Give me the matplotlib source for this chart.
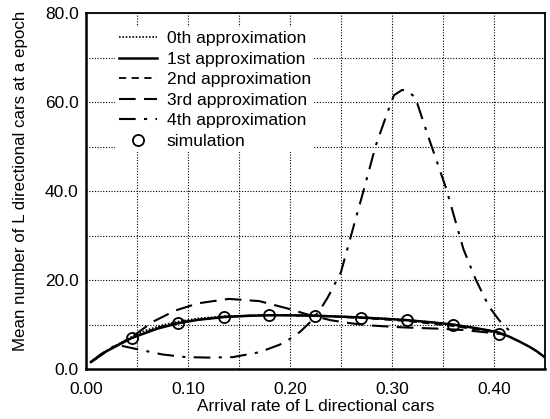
import numpy as np
import matplotlib.pyplot as plt

plt.rcParams['font.family'] = ['Liberation Sans', 'DejaVu Sans']

# simulation points
sim_x = [0.045, 0.09, 0.135, 0.18, 0.225, 0.27, 0.315, 0.36, 0.405]
sim_y = [7.1, 10.4, 11.8, 12.2, 11.9, 11.6, 11.1, 9.9, 7.9]

# 1st approximation
a1_x = [0.005, 0.02, 0.045, 0.07, 0.09, 0.11, 0.135, 0.16, 0.18, 0.2, 0.225, 0.25, 0.27, 0.295, 0.315,
        0.34, 0.36, 0.38, 0.395, 0.405, 0.415, 0.425, 0.435, 0.442, 0.449]
a1_y = [1.6, 4.0, 7.0, 9.1, 10.3, 11.1, 11.7, 12.0, 12.1, 12.1, 12.0, 11.8, 11.6, 11.3, 11.0,
        10.5, 10.0, 9.3, 8.7, 8.2, 7.3, 6.2, 5.0, 4.0, 2.8]

# 0th approximation
a0_x = [0.005, 0.02, 0.045, 0.06, 0.075, 0.09, 0.11, 0.135, 0.18, 0.225, 0.27, 0.315, 0.36, 0.405]
a0_y = [1.6, 4.1, 7.3, 8.8, 9.9, 10.7, 11.4, 11.9, 12.2, 12.1, 11.7, 11.1, 10.1, 8.3]

# 2nd approximation
a2_x = [0.005, 0.02, 0.045, 0.07, 0.09, 0.135, 0.18, 0.225, 0.27, 0.315, 0.36, 0.38, 0.395, 0.405, 0.415]
a2_y = [1.6, 4.0, 7.1, 9.3, 10.5, 11.8, 12.2, 12.0, 11.5, 10.8, 9.7, 9.0, 8.5, 8.0, 7.4]

# 3rd approximation
a3_x = [0.005, 0.02, 0.045, 0.066, 0.088, 0.11, 0.14, 0.17, 0.2, 0.217, 0.24, 0.26, 0.28, 0.31,
        0.345, 0.37, 0.387, 0.4, 0.41]
a3_y = [1.6, 4.0, 7.2, 10.7, 13.2, 14.8, 15.8, 15.3, 13.5, 12.3, 11.0, 10.3, 9.8, 9.4,
        9.1, 8.8, 8.4, 8.1, 7.8]

# 4th approximation
a4_x = [0.005, 0.015, 0.03, 0.05, 0.075, 0.098, 0.12, 0.144, 0.17, 0.19, 0.2, 0.21, 0.22, 0.23,
        0.237, 0.25, 0.259, 0.272, 0.284, 0.296, 0.302, 0.31, 0.316, 0.323, 0.336, 0.353,
        0.37, 0.382, 0.395, 0.405, 0.412, 0.42]
a4_y = [1.6, 3.4, 5.5, 4.5, 3.3, 2.7, 2.6, 2.7, 3.8, 5.5, 6.8, 8.4, 10.6, 13.5,
        16.1, 21.8, 29.3, 40.0, 50.2, 58.0, 61.6, 62.8, 62.5, 61.0, 52.0, 40.7,
        27.0, 20.2, 14.1, 11.0, 9.3, 7.7]

x_ticks = [0.00, 0.10, 0.20, 0.30, 0.40]
y_ticks = [0.0, 20.0, 40.0, 60.0, 80.0]

fig = plt.figure(figsize=(5.5, 4.19), dpi=100)
ax = fig.add_axes([0.156, 0.119, 0.835, 0.849])

ax.plot(a0_x, a0_y, color='black', lw=1.2, linestyle=(0, (1, 1)), label='0th approximation')
ax.plot(a1_x, a1_y, color='black', lw=1.8, linestyle='-', label='1st approximation')
ax.plot(a2_x, a2_y, color='black', lw=1.3, linestyle=(0, (4, 3)), label='2nd approximation')
ax.plot(a3_x, a3_y, color='black', lw=1.5, linestyle=(0, (8, 4)), label='3rd approximation')
ax.plot(a4_x, a4_y, color='black', lw=1.5, linestyle=(0, (8, 4, 1.5, 4)), label='4th approximation')
ax.plot(sim_x, sim_y, linestyle='none', marker='o', markersize=8, markerfacecolor='none',
        markeredgecolor='black', markeredgewidth=1.3, label='simulation')

ax.set_xlim(0, 0.45)
ax.set_ylim(0, 80)
ax.set_xticks(x_ticks)
ax.set_xticklabels(['%.2f' % v for v in x_ticks])
ax.set_yticks(y_ticks)
ax.set_yticklabels(['%.1f' % v for v in y_ticks])
ax.set_xticks(np.arange(0.05, 0.45, 0.1), minor=True)
ax.set_yticks(np.arange(10, 80, 20), minor=True)
ax.tick_params(which='both', length=0, labelsize=12.5)
ax.tick_params(axis='x', pad=9)
ax.tick_params(axis='y', pad=5)
ax.grid(True, which='both', color='black', linestyle=(0, (1, 1.5)), linewidth=0.8)

for side in ['left', 'bottom']:
    ax.spines[side].set_linewidth(1.8)
for side in ['top', 'right']:
    ax.spines[side].set_linewidth(1.3)

ax.set_xlabel('Arrival rate of L directional cars', fontsize=12.4, labelpad=2)
ax.set_ylabel('Mean number of L directional cars at a epoch', fontsize=12.2)
ax.yaxis.set_label_coords(-0.126, 0.53)

leg = ax.legend(loc='upper left', bbox_to_anchor=(0.045, 0.985), fontsize=12.6, frameon=True,
                handlelength=2.2, handletextpad=0.55, labelspacing=0.3, borderpad=0.2)
leg.get_frame().set_edgecolor('none')
leg.get_frame().set_facecolor('white')
leg.get_frame().set_alpha(1.0)

fig.savefig('out.png', dpi=100)
